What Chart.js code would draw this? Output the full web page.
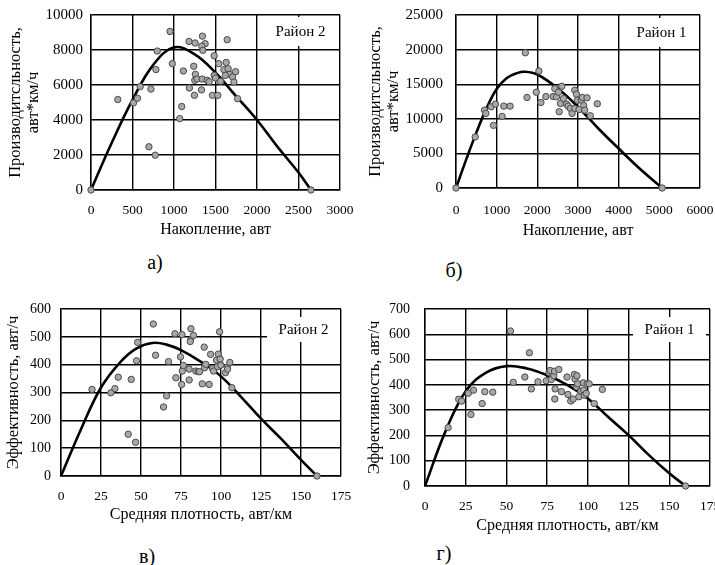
<!DOCTYPE html>
<html>
<head>
<meta charset="utf-8">
<script src="https://cdn.jsdelivr.net/npm/chart.js@4.4.1/dist/chart.umd.min.js"></script>
<style>
  html, body { margin: 0; padding: 0; background: #fff; overflow: hidden; }
  body { width: 715px; height: 565px; position: relative; font-family: "Liberation Serif", serif; }
  canvas { position: absolute; }
  .cap { position: absolute; font-size: 20px; line-height: 20px; color: #000; transform: translate(-50%, -50%); }
</style>
</head>
<body>
<canvas id="chartA" style="left:0;top:0" width="355" height="245"></canvas>
<canvas id="chartB" style="left:360px;top:0" width="355" height="245"></canvas>
<canvas id="chartC" style="left:0;top:285px" width="355" height="245"></canvas>
<canvas id="chartD" style="left:360px;top:285px" width="355" height="255"></canvas>
<div class="cap" style="left:155px;top:262px">а)</div>
<div class="cap" style="left:454px;top:270px">б)</div>
<div class="cap" style="left:147px;top:556px">в)</div>
<div class="cap" style="left:444px;top:553px">г)</div>
<script>
// а) Район 2: накопление / производительность
const aX = [0, 323, 512, 560, 593, 722, 782, 798, 698, 774, 952, 980, 1069, 1093, 1113, 1181, 1254, 1343, 1375, 1335, 1347, 1238, 1258, 1250, 1278, 1185, 1246, 1331, 1339, 1399, 1423, 1464, 1528, 1484, 1540, 1484, 1500, 1560, 1601, 1629, 1653, 1641, 1669, 1706, 1722, 1742, 1766, 1617, 2650]
const aY = [0, 5170, 4980, 5240, 5910, 5770, 6880, 7940, 2470, 1990, 9060, 7220, 4080, 4770, 6800, 8490, 8400, 8790, 8360, 8220, 7980, 7070, 6610, 6270, 6340, 5830, 5410, 5720, 6340, 6270, 6190, 5410, 5410, 7670, 7220, 6550, 6400, 6210, 6880, 7290, 6930, 8590, 6610, 6460, 6170, 6760, 5220, 6550, 0]
const curveAX = [0, 250, 500, 750, 1000, 1250, 1500, 1750, 2000, 2250, 2500, 2650]
const curveAY = [0, 2700, 5150, 7150, 8150, 7750, 6700, 5350, 4000, 2450, 1000, 0]
const ticksAX = [0, 500, 1000, 1500, 2000, 2500, 3000]
const ticksAY = [0, 2000, 4000, 6000, 8000, 10000]

// б) Район 1
const bX = [0, 473, 700, 734, 865, 922, 971, 1134, 1175, 1330, 1705, 1746, 1974, 2039, 2088, 2210, 2390, 2430, 2471, 2520, 2537, 2570, 2602, 2643, 2716, 2757, 2814, 2855, 2920, 2920, 2961, 2985, 3026, 3083, 3108, 3140, 3165, 3222, 3303, 3475, 5070]
const bY = [0, 7380, 11250, 10780, 11730, 9050, 12120, 10350, 11830, 11830, 19540, 13080, 13840, 16910, 12360, 13220, 13220, 14370, 13170, 13840, 11020, 12210, 14700, 12930, 12120, 11830, 11490, 10780, 14130, 11490, 13550, 12690, 11350, 12690, 13080, 11930, 11250, 13030, 10440, 12170, 0]
const curveBX = [0, 250, 500, 750, 1000, 1250, 1500, 1700, 2000, 2500, 3000, 3500, 4000, 4500, 5070]
const curveBY = [0, 4100, 8000, 11500, 14300, 15900, 16600, 16800, 16400, 14400, 11700, 8600, 5700, 2900, 0]
const ticksBX = [0, 1000, 2000, 3000, 4000, 5000, 6000]
const ticksBY = [0, 5000, 10000, 15000, 20000, 25000]

// в) Район 2: плотность / эффективность
const vX = [19.4, 31.2, 33.7, 35.8, 43.9, 42, 46.6, 47.2, 47.9, 57.7, 59.1, 64.1, 66, 67.2, 71.2, 71.8, 74.7, 75.4, 75.6, 75.8, 76.5, 80.1, 80.1, 81, 81.2, 80.8, 82.8, 84.3, 85.8, 86.6, 88.3, 89.5, 89.7, 90.5, 92.6, 93.5, 94.7, 95.3, 97.2, 97.9, 98.3, 99.1, 99.5, 99.9, 102.8, 103.9, 104.1, 105.5, 106.8, 160]
const vY = [311, 299, 314, 355, 347, 150, 121, 414, 480, 546, 434, 248, 288, 411, 511, 353, 428, 329, 508, 377, 397, 384, 345, 489, 529, 483, 505, 377, 375, 375, 331, 463, 389, 401, 329, 437, 386, 377, 416, 393, 438, 518, 420, 398, 371, 391, 384, 408, 317, 0]
const curveVX = [0, 12.5, 25, 37.5, 47, 57, 66, 75, 87.5, 100, 112.5, 125, 137.5, 150, 160]
const curveVY = [0, 168, 318, 412, 458, 478, 472, 452, 410, 358, 284, 206, 134, 58, 0]
const ticksVX = [0, 25, 50, 75, 100, 125, 150, 175]
const ticksVY = [0, 100, 200, 300, 400, 500, 600]

// г) Район 1
const gX = [14.2, 20.7, 22.5, 26.6, 28.2, 29.8, 35.1, 36.7, 41.6, 52.5, 54.2, 61.3, 64.1, 65.3, 69.4, 74.4, 76.1, 76.9, 77.5, 79.1, 79.5, 79.9, 79.7, 82.2, 83.8, 87.2, 87.8, 89.5, 91, 91.7, 92.1, 93.1, 93.3, 93.7, 94.5, 95.7, 97.2, 97.4, 97.8, 99, 99.6, 100.8, 103.9, 108.9, 160]
const gY = [231, 343, 336, 367, 283, 379, 326, 373, 371, 613, 410, 431, 527, 384, 412, 416, 449, 457, 421, 436, 454, 384, 344, 461, 373, 431, 362, 336, 344, 441, 423, 392, 436, 404, 353, 375, 408, 379, 359, 366, 404, 404, 326, 382, 0]
const curveGX = [0, 12.5, 25, 37.5, 50, 62.5, 75, 87.5, 100, 112.5, 125, 137.5, 150, 160]
const curveGY = [0, 215, 375, 448, 474, 465, 438, 399, 346, 273, 201, 122, 50, 0]
const ticksGX = [0, 25, 50, 75, 100, 125, 150, 175]
const ticksGY = [0, 100, 200, 300, 400, 500, 600, 700]

const titleProd = ['Производитсльность,', 'авт*км/ч']
const titleEff = 'Эффективность, авт/ч'
const titleAcc = 'Накопление, авт'
const titleDens = 'Средняя плотность, авт/км'

const serif = "'Liberation Serif', 'Times New Roman', serif"
Chart.defaults.font.family = serif
Chart.defaults.color = '#000'

const toPoints = (xs, ys) => xs.map((x, i) => ({ x: x, y: ys[i] }))

// white box with the district name in the upper right corner
const regionLabel = {
  id: 'regionLabel',
  afterDatasetsDraw(chart, args, opts) {
    const { ctx, chartArea } = chart
    const w = 73
    const x = chartArea.right - opts.right - w
    const y = chartArea.top + opts.top
    ctx.save()
    ctx.fillStyle = '#fff'
    ctx.fillRect(x, y, w, opts.height)
    ctx.fillStyle = '#000'
    ctx.font = "15px " + serif
    ctx.textAlign = 'center'
    ctx.textBaseline = 'middle'
    ctx.fillText(opts.text, x + w / 2, y + opts.height / 2 + 1)
    ctx.restore()
  }
}

function makeChart(id, p) {
  const gridOpts = { color: '#000', lineWidth: 1.4, drawTicks: false }
  return new Chart(document.getElementById(id), {
    type: 'scatter',
    data: {
      datasets: [{
        data: toPoints(p.xs, p.ys),
        backgroundColor: '#a8a8a8',
        borderColor: '#4a4a4a',
        borderWidth: 1,
        pointRadius: 3.2,
        clip: false,
        order: 0
      }, {
        data: toPoints(p.cx, p.cy),
        showLine: true,
        borderColor: '#000',
        borderWidth: 2.6,
        pointRadius: 0,
        tension: 0.4,
        clip: false,
        order: 1
      }]
    },
    plugins: [regionLabel],
    options: {
      responsive: false,
      animation: false,
      events: [],
      layout: { padding: { left: 0, top: p.padTop, right: p.padRight, bottom: 0 } },
      plugins: {
        legend: { display: false },
        tooltip: { enabled: false },
        regionLabel: { text: p.region, top: p.boxTop, right: p.boxRight, height: p.boxH }
      },
      scales: {
        x: {
          type: 'linear',
          min: p.xTicks[0],
          max: p.xTicks[p.xTicks.length - 1],
          afterBuildTicks: s => { s.ticks = p.xTicks.map(v => ({ value: v })) },
          afterFit: s => {
            s.height = p.xHeight
            s.paddingLeft = 0
            s.paddingRight = 0
          },
          grid: gridOpts,
          border: { color: '#000', width: 1.4 },
          ticks: {
            padding: p.xTickPad,
            autoSkip: false,
            maxRotation: 0,
            font: { family: serif, size: 13.5 },
            callback: v => String(v)
          },
          title: { display: true, text: p.xTitle, font: { size: 16, lineHeight: 1.2 }, padding: { top: 0, bottom: p.xTitlePad } }
        },
        y: {
          type: 'linear',
          min: p.yTicks[0],
          max: p.yTicks[p.yTicks.length - 1],
          afterBuildTicks: s => { s.ticks = p.yTicks.map(v => ({ value: v })) },
          afterFit: s => {
            s.width = p.yWidth
            s.paddingTop = 0
            s.paddingBottom = 0
          },
          grid: gridOpts,
          border: { color: '#000', width: 1.4 },
          ticks: {
            padding: p.yTickPad,
            autoSkip: false,
            font: { family: serif, size: p.yTickSize },
            callback: v => String(v)
          },
          title: { display: true, text: p.yTitle, font: { size: 16.5, lineHeight: 1.08 }, padding: { top: p.yTitlePad, bottom: 0 } }
        }
      }
    }
  })
}

makeChart('chartA', {
  xs: aX, ys: aY, cx: curveAX, cy: curveAY, xTicks: ticksAX, yTicks: ticksAY,
  xTitle: titleAcc, yTitle: titleProd, region: 'Район 2',
  padTop: 15, padRight: 15, yWidth: 91, xHeight: 55,
  yTickPad: 8, yTickSize: 15, xTickPad: 12, yTitlePad: 7, xTitlePad: 6,
  boxTop: 2, boxRight: 3, boxH: 29
})

makeChart('chartB', {
  xs: bX, ys: bY, cx: curveBX, cy: curveBY, xTicks: ticksBX, yTicks: ticksBY,
  xTitle: titleAcc, yTitle: titleProd, region: 'Район 1',
  padTop: 15, padRight: 15, yWidth: 96, xHeight: 57,
  yTickPad: 13, yTickSize: 15, xTickPad: 14, yTitlePad: 7, xTitlePad: 5,
  boxTop: 3, boxRight: 2, boxH: 29
})

makeChart('chartC', {
  xs: vX, ys: vY, cx: curveVX, cy: curveVY, xTicks: ticksVX, yTicks: ticksVY,
  xTitle: titleDens, yTitle: titleEff, region: 'Район 2',
  padTop: 24, padRight: 14, yWidth: 61, xHeight: 54,
  yTickPad: 10, yTickSize: 14, xTickPad: 12, yTitlePad: 4.5, xTitlePad: 6,
  boxTop: 8, boxRight: 1, boxH: 25
})

makeChart('chartD', {
  xs: gX, ys: gY, cx: curveGX, cy: curveGY, xTicks: ticksGX, yTicks: ticksGY,
  xTitle: titleDens, yTitle: titleEff, region: 'Район 1',
  padTop: 24, padRight: 3, yWidth: 65, xHeight: 54,
  yTickPad: 15, yTickSize: 14, xTickPad: 12, yTitlePad: 6, xTitlePad: 5,
  boxTop: 8, boxRight: 4, boxH: 25
})
</script>
</body>
</html>
